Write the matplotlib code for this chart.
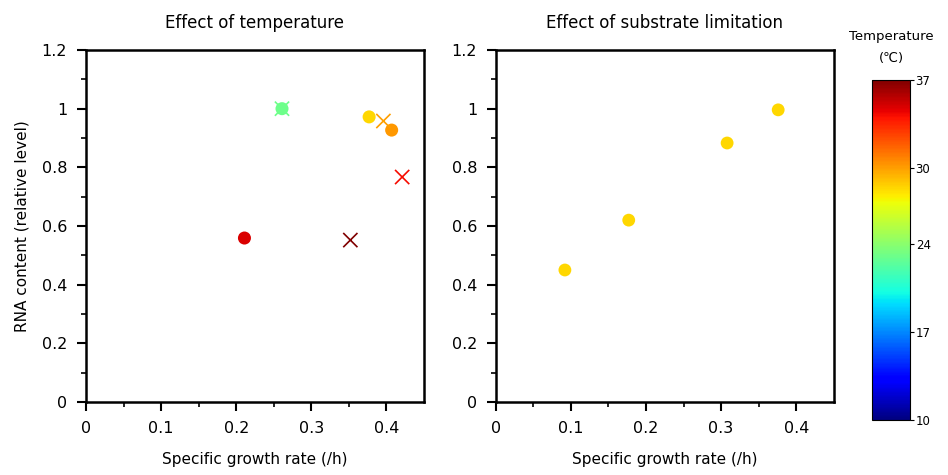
import matplotlib.pyplot as plt
import matplotlib as mpl
import numpy as np

plt.rcParams['font.family'] = ['DejaVu Sans']

# left panel: effect of temperature
circ_rate = [0.261, 0.377, 0.407, 0.211]
circ_rna = [1.0, 0.972, 0.927, 0.559]
circ_temp = [23, 28.4, 30.2, 34.8]

cross_rate = [0.261, 0.396, 0.421, 0.352]
cross_rna = [1.0, 0.958, 0.767, 0.552]
cross_temp = [23, 30, 34.2, 37]

# right panel: effect of substrate limitation
sub_rate = [0.092, 0.177, 0.308, 0.376]
sub_rna = [0.45, 0.62, 0.883, 0.996]
sub_temp = [28.4, 28.4, 28.4, 28.4]

cbar_ticks = [10, 17, 24, 30, 37]

cmap = plt.get_cmap('jet')
norm = mpl.colors.Normalize(vmin=10, vmax=37)

fig = plt.figure(figsize=(9.48, 4.75), dpi=100)
ax1 = fig.add_axes([0.0907, 0.1537, 0.3565, 0.741])
ax2 = fig.add_axes([0.523, 0.1537, 0.3565, 0.741])
cax = fig.add_axes([0.92, 0.1158, 0.04, 0.7162])

ax1.scatter(circ_rate, circ_rna, c=circ_temp, cmap=cmap, norm=norm,
            marker='o', s=88, linewidths=0, zorder=3)
ax1.scatter(cross_rate, cross_rna, c=cross_temp, cmap=cmap, norm=norm,
            marker='x', s=105, linewidths=1.2, zorder=3)
ax2.scatter(sub_rate, sub_rna, c=sub_temp, cmap=cmap, norm=norm,
            marker='o', s=85, linewidths=0, zorder=3)

titles = ['Effect of temperature', 'Effect of substrate limitation']
for ax, t in zip([ax1, ax2], titles):
    ax.set_xlim(0, 0.45)
    ax.set_ylim(0, 1.2)
    ax.set_xticks([0, 0.1, 0.2, 0.3, 0.4])
    ax.set_xticklabels(['0', '0.1', '0.2', '0.3', '0.4'])
    ax.set_yticks([0, 0.2, 0.4, 0.6, 0.8, 1.0, 1.2])
    ax.set_yticklabels(['0', '0.2', '0.4', '0.6', '0.8', '1', '1.2'])
    ax.set_xticks(np.arange(0.05, 0.45, 0.1), minor=True)
    ax.set_yticks(np.arange(0.1, 1.2, 0.2), minor=True)
    ax.tick_params(which='major', direction='out', length=6.5, width=1.5,
                   labelsize=11.5, pad=7, top=False, right=False)
    ax.tick_params(which='minor', direction='out', length=3.5, width=1.2,
                   top=False, right=False)
    for sp in ax.spines.values():
        sp.set_linewidth(1.8)
    ax.set_title(t, fontsize=12, pad=16)
    ax.set_xlabel('Specific growth rate (/h)', fontsize=11, labelpad=12)

ax1.set_ylabel('RNA content (relative level)', fontsize=11, labelpad=9)

cb = mpl.colorbar.ColorbarBase(cax, cmap=cmap, norm=norm, ticks=cbar_ticks)
cb.outline.set_linewidth(0.8)
cax.tick_params(labelsize=8.5, length=3, width=0.8, pad=1)
cax.set_title('Temperature\n(\u2103)', fontsize=9.5, pad=13, linespacing=1.9)

fig.savefig('out.png', dpi=100)
